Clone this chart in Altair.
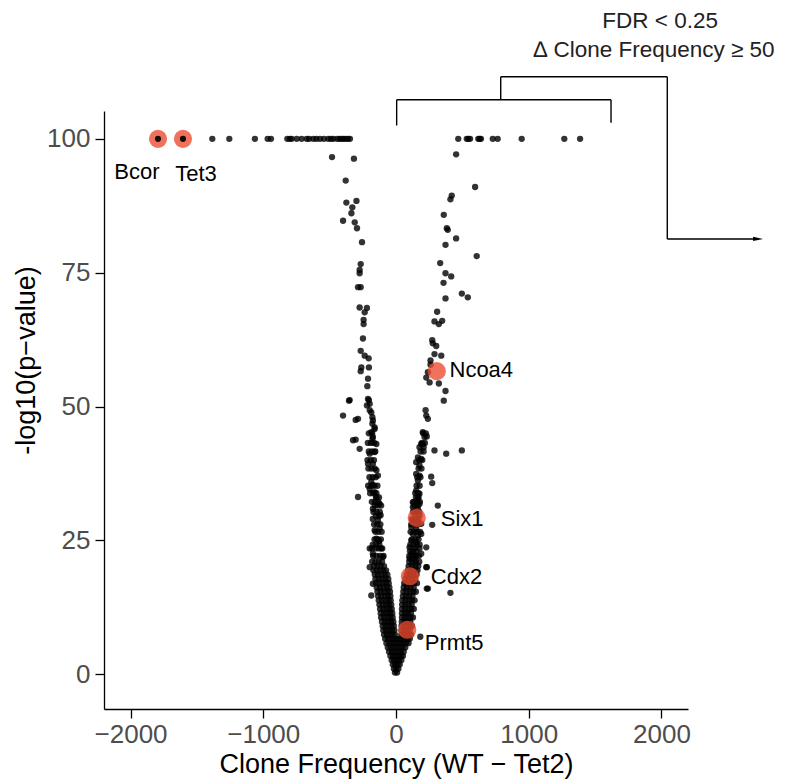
import altair as alt
import pandas as pd

# ---------------- data ----------------
# points capped at -log10(p) = 100
top_row_x = [-1384, -1256, -1063, -967, -942, -819, -800, -786, -748, -711, -673, -655,
             -623, -600, -573, -543, -510, -490, -472, -442, -425, -409, -395, -379, -362, -347,
             469, 533, 545, 558, 620, 630, 640, 729, 766, 947, 1268, 1387]
top_row_y = [100] * len(top_row_x)

# sparse upper part of the left arm
left_arm_x = [-482, -317, -379, -374, -298, -329, -336, -399, -311, -294, -256, -266, -274, -274,
              -286, -266, -274, -219, -236, -244, -244, -249, -266, -236, -206, -261, -266, -204,
              -211, -216, -354, -349, -204, -198, -219, -211, -399, -286, -304, -186, -178, -198,
              -178, -161, -174, -148, -304, -274, -324, -174, -161, -186, -178, -198, -161, -211,
              -174, -148, -136, -186, -174, -198, -161, -148, -123, -174, -116, -136, -161, -123,
              -148, -128, -198, -174, -111, -98, -286, -198, -174, -186]
left_arm_y = [96.6, 96.3, 92.2, 88.1, 88.4, 87.2, 86.1, 84.7, 84.4, 83.3, 80.7, 76.6, 75.5, 74.9,
              72.3, 72.3, 68.5, 68.4, 67.6, 66.2, 65.4, 62.7, 60.4, 59.5, 59.0, 57.3, 56.6, 57.3,
              55.2, 53.8, 51.1, 51.2, 51.2, 50.5, 50.2, 51.4, 48.3, 47.7, 47.5, 48.9, 48.0, 49.3,
              46.8, 45.8, 44.3, 43.0, 43.8, 42.1, 43.7, 47.4, 46.1, 45.2, 44.0, 41.2, 41.5, 39.3,
              39.3, 38.1, 37.1, 35.9, 35.3, 34.6, 34.0, 33.1, 31.8, 30.9, 29.7, 28.7, 26.9, 27.2,
              25.3, 24.9, 23.5, 22.5, 23.5, 21.9, 33.1, 20.0, 16.9, 14.7]

# sparse upper part of the right arm
right_arm_x = [453, 596, 420, 410, 360, 383, 390, 453, 373, 608, 333, 373, 416, 358, 373, 496,
               541, 310, 290, 323, 348, 273, 303, 277, 290, 341, 260, 260, 240, 228, 253, 323,
               373, 360, 223, 228, 240, 202, 215, 190, 208, 290, 378, 496, 232, 202, 177, 165,
               190, 152, 177, 152, 177, 165, 152, 177, 165, 127, 177, 127, 165, 140, 177, 127,
               165, 190, 115, 152, 127, 165, 190, 115, 152, 102, 140, 177, 115, 152, 190, 102,
               140, 265, 273, 315, 273, 228, 228, 240, 410, 232, 232, 183]
right_arm_y = [97.1, 91.0, 89.4, 88.7, 85.8, 83.3, 83.0, 81.4, 80.2, 78.1, 76.8, 74.9, 74.3, 73.1,
               70.2, 71.1, 70.4, 67.7, 65.9, 65.4, 66.0, 62.4, 61.3, 61.8, 59.8, 59.5, 58.6, 57.8,
               56.4, 55.4, 54.5, 54.3, 52.9, 51.1, 49.3, 48.3, 47.7, 45.2, 44.3, 43.0, 42.4, 41.8,
               41.2, 41.8, 44.4, 43.0, 42.4, 40.5, 40.2, 39.6, 39.0, 37.4, 37.1, 36.2, 34.3, 33.7,
               32.8, 32.1, 31.8, 31.2, 30.9, 30.0, 29.7, 28.7, 28.4, 28.1, 27.5, 27.2, 26.2, 25.9,
               26.2, 25.0, 24.7, 23.7, 23.5, 23.5, 22.5, 22.2, 22.5, 21.6, 21.4, 36.9, 35.7, 31.5,
               27.9, 23.7, 20.0, 16.0, 15.2, 20.0, 16.0, 7.0]

# denser rows of both arms and the core of the V:
# (-log10 p, clone-frequency differences seen on that row)
core_rows = [
    (45.0, [-205, -180, 205, 225]),
    (43.2, [-212, -188, -165, 195, 218]),
    (41.6, [-205, -180, -156, 185, 208]),
    (40.0, [-215, -190, -166, 175, 198]),
    (38.4, [-208, -184, -160, 170, 192]),
    (36.8, [-200, -176, -152, 160, 184]),
    (35.2, [-210, -186, -162, -140, 155, 178]),
    (33.8, [-195, -172, -148, 145, 168]),
    (33.0, [-150, -128, 150, 170]),
    (32.2, [-182, -158, -134, 132, 156, 180]),
    (31.5, [-160, -138, -112, 138, 162]),
    (30.3, [-170, -146, -122, 128, 152, 176]),
    (29.5, [-152, -128]),
    (29.0, [-175, 120, 145, 170]),
    (28.0, [-165, -142, -118, 115, 140, 165]),
    (26.6, [-155, -132, -108, 110, 135, 160, 182]),
    (25.2, [-162, -138, -114, 120, 145, 170]),
    (24.2, [-175, -150, -125, 108, 132, 156, 178]),
    (23.5, [-182, -155, -130, -104]),
    (23.0, [105, 130, 155]),
    (22.1, [-172, -146, -120, -94, 100, 125, 150, 172]),
    (21.0, [-180, -155, -130, -105, 100, 125, 150, 175]),
    (20.2, [-165, -140, -115, -90, 95, 120, 145, 168]),
    (19.4, [-170, -145, -120, -95, -75, 90, 115, 140, 162]),
    (18.6, [-160, -135, -110, -85, -65, 80, 105, 130, 155]),
    (17.8, [-155, -130, -105, -80, -58, 70, 95, 120, 145]),
    (17.0, [-150, -125, -100, -75, -55, 62, 87, 112, 137, 158]),
    (16.2, [-145, -120, -95, -70, -50, 58, 83, 108, 133]),
    (15.4, [-140, -115, -90, -65, -45, 55, 80, 105, 130, 150]),
    (14.6, [-135, -110, -85, -62, -42, 52, 76, 100, 124]),
    (13.8, [-130, -105, -80, -58, -40, 48, 72, 96, 120, 140]),
    (13.0, [-125, -100, -75, -55, -36, 46, 70, 94, 118]),
    (12.2, [-120, -95, -72, -50, -32, 45, 68, 92, 115, 134]),
    (11.4, [-115, -90, -68, -46, -28, 45, 68, 90, 112]),
    (10.6, [-112, -88, -65, -43, -25, 45, 67, 89, 110, 128]),
    (9.8, [-106, -82, -60, -38, -20, 44, 66, 88, 108]),
    (9.0, [-100, -78, -56, -34, -16, 42, 64, 86, 106, 120]),
    (8.2, [-96, -74, -52, -30, -12, 41, 62, 84, 104]),
    (7.4, [-90, -68, -46, -26, -8, 40, 60, 80, 100, 114]),
    (6.6, [-82, -60, -38, -18, 2, 22, 44, 66, 88, 104]),
    (5.8, [-72, -50, -28, -8, 12, 32, 54, 76, 94]),
    (5.0, [-62, -40, -18, 4, 26, 48, 70]),
    (4.2, [-52, -30, -8, 14, 36, 58]),
    (3.4, [-42, -22, -2, 18, 38, 52]),
    (2.6, [-32, -14, 4, 22, 40]),
    (1.8, [-24, -6, 12, 28]),
    (1.0, [-16, 2, 18]),
    (0.3, [-8, 8]),
]

# highlighted genes
genes = ["Bcor", "Tet3", "Ncoa4", "Six1", "Cdx2", "Prmt5"]
gene_x = [-1793, -1605, 307, 156, 105, 85]
gene_y = [100, 100, 56.6, 29.2, 18.3, 8.3]
# label anchors
label_x = [-1952, -1507, 403, 337, 262, 217]
label_y = [93.8, 93.5, 56.8, 29.0, 18.1, 5.8]

# bracket annotation segments (x, x2, y, y2)
seg_x = [5, 5, 1620, 789, 789, 2044, 2044]
seg_x2 = [5, 1620, 1620, 789, 2044, 2044, 2728]
seg_y = [102.5, 107.3, 107.3, 107.3, 111.6, 111.6, 81.3]
seg_y2 = [107.3, 107.3, 103.0, 111.6, 111.6, 81.3, 81.3]
arrow_x = [2728]
arrow_y = [81.3]
note_text = ["FDR < 0.25", "\u2206 Clone Frequency \u2265 50"]
note_x = [1990, 1944]
note_y = [122.0, 116.6]

# ---------------- tables ----------------
px, py = list(top_row_x) + left_arm_x + right_arm_x, list(top_row_y) + left_arm_y + right_arm_y
for yy, xs in core_rows:
    px += xs
    py += [yy] * len(xs)
points = pd.DataFrame({"x": px, "y": py})
hl = pd.DataFrame({"gene": genes, "x": gene_x, "y": gene_y, "lx": label_x, "ly": label_y})
segs = pd.DataFrame({"x": seg_x, "x2": seg_x2, "y": seg_y, "y2": seg_y2})
arrow = pd.DataFrame({"x": arrow_x, "y": arrow_y})
notes = pd.DataFrame({"t": note_text, "x": note_x, "y": note_y})

FONT = "Liberation Sans"
xs = alt.Scale(domain=[-2200, 2200], nice=False, zero=False)
ys = alt.Scale(domain=[-6.5, 105.2], nice=False, zero=False)
xax = alt.Axis(values=[-2000, -1000, 0, 1000, 2000], format="d", grid=False)
yax = alt.Axis(values=[0, 25, 50, 75, 100], grid=False, titleY=249)
XT = "Clone Frequency (WT \u2212 Tet2)"
YT = "-log10(p\u2212value)"


def X(f="x"):
    return alt.X(f"{f}:Q", scale=xs, axis=xax, title=XT)


def Y(f="y"):
    return alt.Y(f"{f}:Q", scale=ys, axis=yax, title=YT)


base_pts = alt.Chart(points).mark_circle(size=40, color="black", opacity=0.8).encode(x=X(), y=Y())
red = alt.Chart(hl).mark_circle(size=330, color="#EC4A2E", opacity=0.78).encode(x=X(), y=Y())
red_core = alt.Chart(hl).transform_filter("datum.y >= 100").mark_circle(
    size=38, color="black", opacity=0.9).encode(x=X(), y=Y())
lab_c = alt.Chart(hl).transform_filter("datum.y >= 100").mark_text(
    font=FONT, fontSize=22, color="black", align="center", baseline="middle").encode(
    x=X("lx"), y=Y("ly"), text="gene:N")
lab_l = alt.Chart(hl).transform_filter("datum.y < 100").mark_text(
    font=FONT, fontSize=22, color="black", align="left", baseline="middle").encode(
    x=X("lx"), y=Y("ly"), text="gene:N")
bracket = alt.Chart(segs).mark_rule(color="black", strokeWidth=1.4).encode(
    x=X(), x2="x2:Q", y=Y(), y2="y2:Q")
head = alt.Chart(arrow).mark_point(
    shape="M-1,-0.42L1,0L-1,0.42Z", filled=True, size=100, color="black", opacity=1).encode(x=X(), y=Y())
note = alt.Chart(notes).mark_text(font=FONT, fontSize=22.5, color="#222222", align="center",
                                  baseline="middle").encode(x=X(), y=Y(), text="t:N")

chart = alt.layer(base_pts, red, red_core, lab_c, lab_l, bracket, head, note).properties(
    width=584, height=598,
    padding={"left": 96, "top": 103, "right": 89, "bottom": 74},
    autosize=alt.AutoSizeParams(type="none"),
).configure_view(stroke=None).configure_axis(
    domainColor="black", domainWidth=1.3, tickColor="black", tickWidth=1.3, tickSize=9,
    labelFont=FONT, labelFontSize=26, labelColor="#4d4d4d", labelPadding=3,
    titleFont=FONT, titleFontSize=27, titleColor="black", titleFontWeight="normal",
).configure_axisX(titlePadding=4).configure_axisY(labelPadding=5, titlePadding=6)

chart.save("out.html", embed_options={"renderer": "svg", "actions": False})
